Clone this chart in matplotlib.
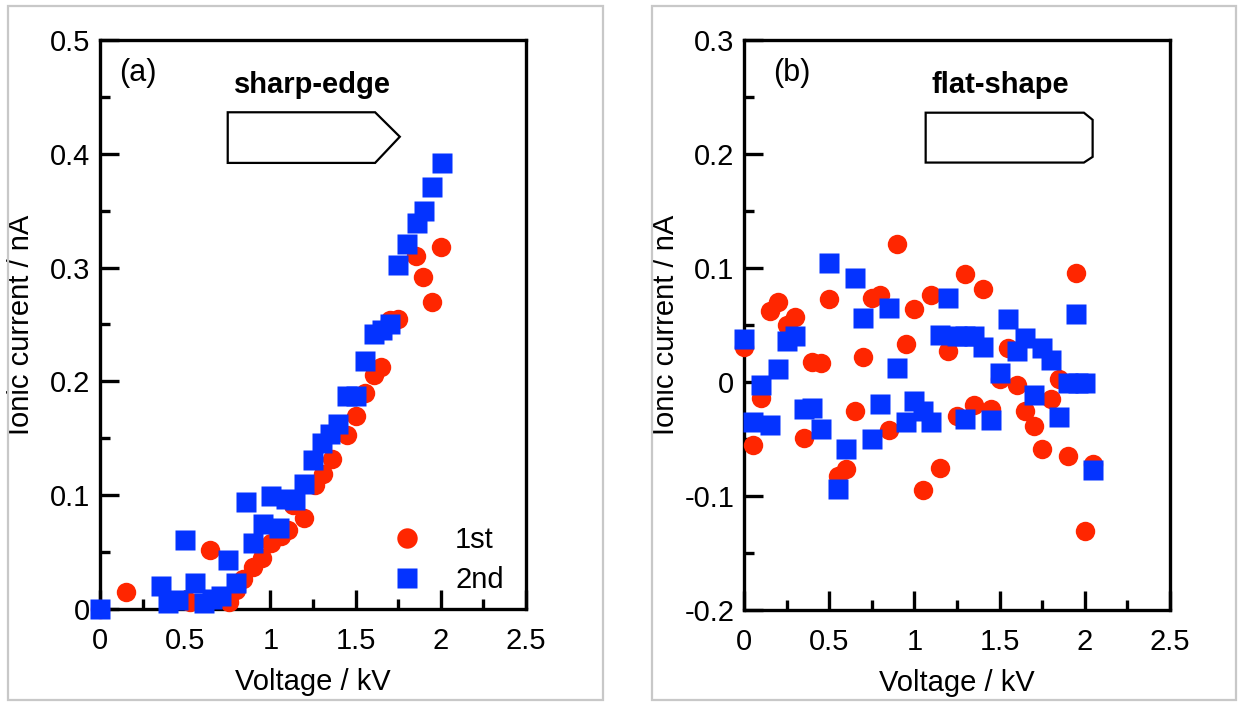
import numpy as np
import matplotlib.pyplot as plt
from matplotlib.patches import Polygon, Rectangle
from matplotlib.ticker import MultipleLocator

plt.rcParams['font.family'] = ['Liberation Sans', 'DejaVu Sans']

# ---- data ----
# (a) sharp-edge electrode
a_v_1st = [0, 0.15, 0.50, 0.53, 0.645, 0.76, 0.80, 0.84, 0.90, 0.95, 1.005, 1.06,
           1.105, 1.135, 1.20, 1.26, 1.31, 1.36, 1.45, 1.505, 1.555, 1.61, 1.65,
           1.70, 1.75, 1.855, 1.895, 1.95, 2.00]
a_i_1st = [0, 0.015, 0.008, 0.006, 0.052, 0.006, 0.017, 0.026, 0.037, 0.045, 0.058,
           0.064, 0.069, 0.091, 0.080, 0.109, 0.119, 0.132, 0.153, 0.170, 0.190,
           0.206, 0.213, 0.254, 0.255, 0.310, 0.292, 0.270, 0.318]
a_v_2nd = [0, 0.36, 0.40, 0.46, 0.50, 0.56, 0.61, 0.66, 0.71, 0.75, 0.80, 0.86, 0.90,
           0.955, 1.005, 1.05, 1.09, 1.145, 1.20, 1.25, 1.305, 1.35, 1.40, 1.45,
           1.505, 1.555, 1.61, 1.655, 1.70, 1.75, 1.805, 1.86, 1.90, 1.95, 2.005]
a_i_2nd = [0, 0.020, 0.005, 0.008, 0.061, 0.023, 0.005, 0.009, 0.011, 0.043, 0.023,
           0.094, 0.058, 0.075, 0.099, 0.071, 0.097, 0.096, 0.110, 0.131, 0.146,
           0.154, 0.163, 0.187, 0.187, 0.218, 0.242, 0.245, 0.250, 0.302, 0.321,
           0.339, 0.350, 0.371, 0.392]

# (b) flat-shape electrode
b_v_1st = [0.00, 0.05, 0.10, 0.15, 0.20, 0.25, 0.30, 0.35, 0.40, 0.45, 0.50, 0.55,
           0.60, 0.65, 0.70, 0.75, 0.80, 0.85, 0.90, 0.95, 1.00, 1.05, 1.10, 1.15,
           1.20, 1.25, 1.30, 1.35, 1.40, 1.45, 1.50, 1.55, 1.60, 1.65, 1.70, 1.75,
           1.80, 1.85, 1.90, 1.95, 2.00, 2.05]
b_i_1st = [0.031, -0.055, -0.014, 0.062, 0.070, 0.050, 0.057, -0.049, 0.018, 0.017,
           0.073, -0.082, -0.076, -0.025, 0.022, 0.074, 0.076, -0.042, 0.121, 0.033,
           0.064, -0.095, 0.076, -0.075, 0.027, -0.030, 0.095, -0.020, 0.082, -0.024,
           0.003, 0.030, -0.003, -0.025, -0.039, -0.059, -0.015, 0.003, -0.065,
           0.096, -0.131, -0.072]
b_v_2nd = [0.00, 0.05, 0.10, 0.15, 0.20, 0.25, 0.30, 0.35, 0.40, 0.45, 0.50, 0.55,
           0.60, 0.65, 0.70, 0.75, 0.80, 0.85, 0.90, 0.95, 1.00, 1.05, 1.10, 1.15,
           1.20, 1.25, 1.30, 1.30, 1.35, 1.40, 1.45, 1.50, 1.55, 1.60, 1.65, 1.70,
           1.75, 1.80, 1.85, 1.90, 1.95, 1.96, 2.00, 2.05]
b_i_2nd = [0.038, -0.035, -0.003, -0.038, 0.011, 0.036, 0.040, -0.024, -0.023, -0.041,
           0.104, -0.094, -0.059, 0.091, 0.056, -0.050, -0.019, 0.065, 0.012, -0.035,
           -0.017, -0.025, -0.035, 0.041, 0.074, 0.040, 0.040, -0.032, 0.040, 0.031,
           -0.033, 0.008, 0.055, 0.027, 0.039, -0.011, 0.030, 0.019, -0.031, -0.001,
           0.060, -0.001, -0.001, -0.077]

series_labels = ['1st', '2nd']
x_ticks = [0, 0.5, 1, 1.5, 2, 2.5]
x_ticklabels = ['0', '0.5', '1', '1.5', '2', '2.5']
a_y_ticks = [0, 0.1, 0.2, 0.3, 0.4, 0.5]
a_y_ticklabels = ['0', '0.1', '0.2', '0.3', '0.4', '0.5']
b_y_ticks = [-0.2, -0.1, 0, 0.1, 0.2, 0.3]
b_y_ticklabels = ['-0.2', '-0.1', '0', '0.1', '0.2', '0.3']

RED = '#ff2600'
BLUE = '#0433ff'
FS = 21
MS = 14


def style_axes(ax, yticks, yticklabels, ylim, ylabelpad):
    ax.set_xlim(0, 2.5)
    ax.set_ylim(*ylim)
    ax.set_xticks(x_ticks)
    ax.set_xticklabels(x_ticklabels)
    ax.set_yticks(yticks)
    ax.set_yticklabels(yticklabels)
    ax.xaxis.set_minor_locator(MultipleLocator(0.25))
    ax.yaxis.set_minor_locator(MultipleLocator(0.05))
    ax.tick_params(which='both', direction='in', width=2.4, top=False, right=False,
                   labelsize=FS)
    ax.tick_params(which='major', length=13.5)
    ax.tick_params(which='minor', length=7)
    ax.tick_params(axis='x', which='both', pad=13)
    ax.tick_params(axis='y', which='both', pad=7)
    for sp in ax.spines.values():
        sp.set_linewidth(2.4)
    ax.set_xlabel('Voltage / kV', fontsize=FS, labelpad=9)
    ax.set_ylabel('Ionic current / nA', fontsize=FS, labelpad=ylabelpad)


def draw_series(ax, v1, i1, v2, i2, labels=(None, None)):
    ax.plot(v1, i1, 'o', color=RED, ms=MS, mec='none', label=labels[0],
            clip_on=False, zorder=3)
    ax.plot(v2, i2, 's', color=BLUE, ms=MS, mec='none', label=labels[1],
            clip_on=False, zorder=3.1)


fig = plt.figure(figsize=(12.4, 7.02), dpi=100)

# grey frames around each panel
for x0, w in [(0.0065, 0.4798), (0.5258, 0.4710)]:
    fig.patches.append(Rectangle((x0, 0.003), w, 0.9886, transform=fig.transFigure,
                                 fill=False, edgecolor='#c8c8c8', linewidth=1.6))

ax1 = fig.add_axes([0.0806, 0.1325, 0.3435, 0.8105])
ax2 = fig.add_axes([0.6, 0.131, 0.3435, 0.812])

# panel (a)
draw_series(ax1, a_v_1st, a_i_1st, a_v_2nd, a_i_2nd, series_labels)
style_axes(ax1, a_y_ticks, a_y_ticklabels, (0, 0.5), 11)
ax1.text(0.045, 0.942, '(a)', transform=ax1.transAxes, fontsize=FS + 1, va='center')
ax1.text(0.498, 0.907, 'sharp-edge', transform=ax1.transAxes, fontsize=FS,
         fontweight='bold', ha='center', va='baseline')
ax1.add_patch(Polygon([(0.300, 0.873), (0.646, 0.873), (0.704, 0.830),
                       (0.646, 0.784), (0.300, 0.784)], closed=True,
                      transform=ax1.transAxes, fill=False, edgecolor='black', lw=1.6))
ax1.legend(loc='center left', bbox_to_anchor=(0.6866, 0.086), frameon=False,
           fontsize=FS, handlelength=1.0, handletextpad=1.15, borderpad=0,
           labelspacing=0.4, borderaxespad=0, markerscale=1.05)

# panel (b)
draw_series(ax2, b_v_1st, b_i_1st, b_v_2nd, b_i_2nd)
style_axes(ax2, b_y_ticks, b_y_ticklabels, (-0.2, 0.3), 3)
ax2.text(0.068, 0.942, '(b)', transform=ax2.transAxes, fontsize=FS + 1, va='center')
ax2.text(0.601, 0.9065, 'flat-shape', transform=ax2.transAxes, fontsize=FS,
         fontweight='bold', ha='center', va='baseline')
ax2.add_patch(Polygon([(0.4265, 0.8725), (0.798, 0.8725), (0.8185, 0.860),
                       (0.8185, 0.795), (0.798, 0.785), (0.4265, 0.785)], closed=True,
                      transform=ax2.transAxes, fill=False, edgecolor='black', lw=1.6))

fig.savefig('out.png', dpi=100)
